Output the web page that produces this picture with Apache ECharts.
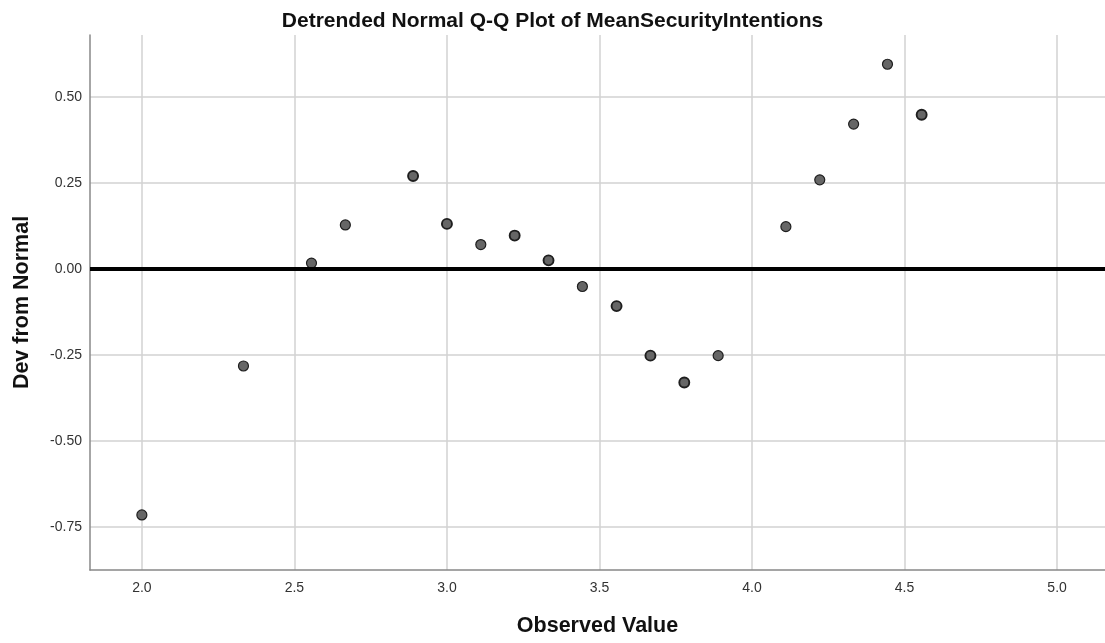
<!DOCTYPE html>
<html>
<head>
<meta charset="utf-8">
<script src="https://cdn.jsdelivr.net/npm/echarts@6/dist/echarts.min.js"></script>
<style>html,body{margin:0;padding:0;background:#fff}#c{width:1105px;height:643px}</style>
</head>
<body>
<div id="c"></div>
<script>
var observedValues = [2.000, 2.333, 2.556, 2.667, 2.889, 3.000, 3.111, 3.222, 3.333, 3.444, 3.556, 3.667, 3.778, 3.889, 4.111, 4.222, 4.333, 4.444, 4.556];
var devFromNormal = [-0.715, -0.282, 0.017, 0.128, 0.270, 0.131, 0.071, 0.097, 0.025, -0.051, -0.108, -0.252, -0.330, -0.252, 0.123, 0.259, 0.421, 0.595, 0.448];
var tiedCases = [1, 1, 1, 1, 2, 2, 1, 2, 2, 1, 2, 2, 2, 1, 1, 1, 1, 1, 2];
var xTickValues = [2.0, 2.5, 3.0, 3.5, 4.0, 4.5, 5.0];
var yTickValues = [-0.75, -0.50, -0.25, 0.00, 0.25, 0.50];

var points = observedValues.map(function (x, i) {
  return {value: [x, devFromNormal[i]], itemStyle: {borderWidth: tiedCases[i] > 1 ? 1.9 : 1.2}};
});
function isTick(list, v) { return list.some(function (t) { return Math.abs(t - v) < 1e-6; }); }
var FONT = 'Liberation Sans, Arial, sans-serif';

var chart = echarts.init(document.getElementById('c'), null, {renderer: 'canvas'});
chart.setOption({
  backgroundColor: '#fff',
  animation: false,
  title: {
    text: 'Detrended Normal Q-Q Plot of MeanSecurityIntentions',
    left: 'center', top: 6,
    textStyle: {fontFamily: FONT, fontSize: 21, fontWeight: 'bold', color: '#111'}
  },
  grid: {left: 90, right: 0, top: 35, bottom: 73, containLabel: false},
  xAxis: {
    type: 'value', min: 1.83, max: 5.157,
    minInterval: 0.5, maxInterval: 0.5,
    name: 'Observed Value', nameLocation: 'middle', nameGap: 45,
    nameTextStyle: {fontFamily: FONT, fontSize: 21.5, fontWeight: 'bold', color: '#111'},
    axisLine: {show: true, onZero: false, lineStyle: {color: '#888', width: 1.5}},
    axisTick: {show: false},
    axisLabel: {
      showMinLabel: false, showMaxLabel: false, margin: 11,
      fontFamily: FONT, fontSize: 14, color: '#333',
      formatter: function (v) { return isTick(xTickValues, v) ? v.toFixed(1) : ''; }
    },
    splitLine: {show: true, showMinLine: false, showMaxLine: false, lineStyle: {color: '#d2d2d2', width: 1.5}}
  },
  yAxis: {
    type: 'value', min: -0.875, max: 0.68,
    minInterval: 0.25, maxInterval: 0.25,
    name: 'Dev from Normal', nameLocation: 'middle', nameGap: 57,
    nameTextStyle: {fontFamily: FONT, fontSize: 21.5, fontWeight: 'bold', color: '#111'},
    axisLine: {show: true, onZero: false, lineStyle: {color: '#888', width: 1.5}},
    axisTick: {show: false},
    axisLabel: {
      showMinLabel: false, showMaxLabel: false, margin: 8,
      fontFamily: FONT, fontSize: 14, color: '#333',
      formatter: function (v) { return isTick(yTickValues, v) ? v.toFixed(2) : ''; }
    },
    splitLine: {show: true, showMinLine: false, showMaxLine: false, lineStyle: {color: '#d2d2d2', width: 1.5}}
  },
  series: [{
    type: 'scatter',
    data: points,
    symbol: 'circle',
    symbolSize: 10,
    itemStyle: {color: '#666666', borderColor: '#1e1e1e', borderWidth: 1.2, opacity: 1},
    markLine: {
      silent: true, symbol: ['none', 'none'], label: {show: false},
      lineStyle: {color: '#000', width: 4, type: 'solid'},
      data: [{yAxis: 0}]
    },
    z: 3
  }]
});
</script>
</body>
</html>
